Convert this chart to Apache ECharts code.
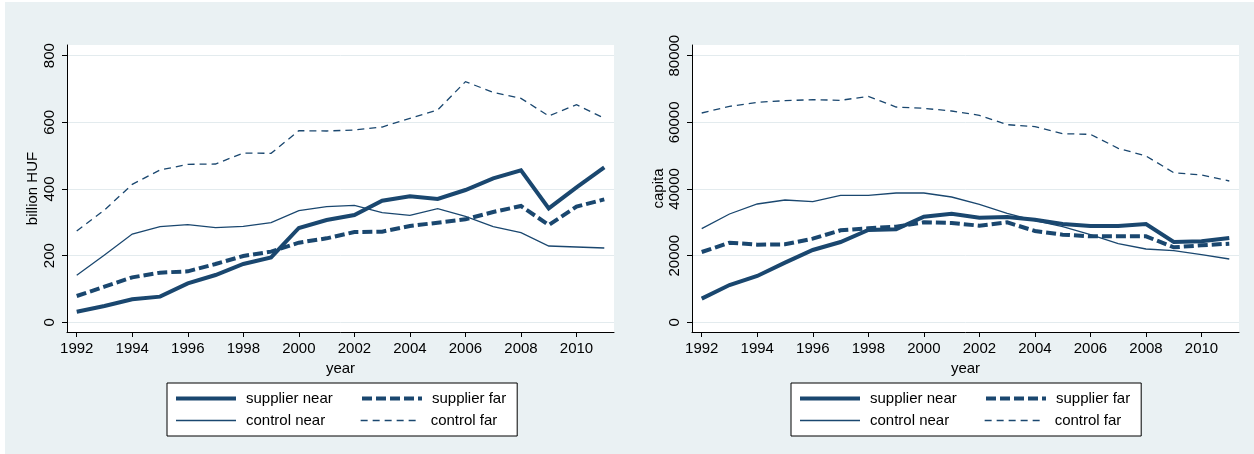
<!DOCTYPE html>
<html>
<head>
<meta charset="utf-8">
<script src="https://cdn.jsdelivr.net/npm/echarts@6/dist/echarts.min.js"></script>
<style>
html,body{margin:0;padding:0;background:#fff;width:1254px;height:454px;overflow:hidden;}
#bg{position:absolute;left:5px;top:2px;right:0;bottom:0;background:#eaf1f3;}
#c{position:absolute;left:0;top:0;width:1254px;height:454px;}
</style>
</head>
<body>
<div id="bg"></div>
<div id="c"></div>
<script>
const years = [1992,1993,1994,1995,1996,1997,1998,1999,2000,2001,2002,2003,2004,2005,2006,2007,2008,2009,2010,2011];
const xTicks = [1992,1994,1996,1998,2000,2002,2004,2006,2008,2010];
const yTicksLeft = [0,200,400,600,800];
const yTicksRight = [0,20000,40000,60000,80000];

// Left panel: billion HUF
const leftSupplierNear = [32,49,69,77,117,142,175,195,283,307,322,365,378,370,397,432,456,342,405,465];
const leftSupplierFar  = [79,107,135,149,153,175,199,212,239,252,271,272,289,299,309,331,349,292,347,369];
const leftControlNear  = [141,202,265,287,293,284,288,299,335,347,351,329,321,341,318,287,269,229,226,223];
const leftControlFar   = [274,337,414,457,474,475,508,507,575,574,577,586,612,637,722,690,672,619,653,612];

// Right panel: capita
const rightSupplierNear = [7100,11200,13900,17900,21700,24100,27700,27900,31700,32600,31400,31600,30800,29500,28900,28900,29500,24100,24300,25300];
const rightSupplierFar  = [21100,23900,23300,23400,25100,27600,28200,28700,30000,29800,29000,30000,27400,26300,25800,25800,25800,22500,23100,23600];
const rightControlNear  = [28100,32500,35500,36700,36200,38100,38100,38800,38800,37600,35400,32700,30500,28700,26300,23600,22000,21500,20300,19000];
const rightControlFar   = [62800,64800,66000,66500,66800,66600,67800,64600,64200,63400,62100,59300,58700,56600,56400,52200,49900,44900,44200,42400];

const seriesNames = ['supplier near','supplier far','control near','control far'];

const NAVY = '#1a476f';
const FONT = '"Liberation Sans", Arial, Helvetica, sans-serif';
const styles = [
  {width:4, type:'solid'},
  {width:4, type:[10,4]},
  {width:1.3, type:'solid'},
  {width:1.3, type:[7,5]}
];

function pairs(vals){ return years.map((y,i)=>[y, vals[i]]); }

const chart = echarts.init(document.getElementById('c'), null, {renderer:'canvas'});

function xAxisDef(gi){
  return {
    type:'value', gridIndex:gi, min:1991.65, max:2011.35,
    name:'year', nameLocation:'middle', nameGap:24,
    nameTextStyle:{fontSize:15, color:'#000', fontFamily:FONT},
    axisLine:{show:true, onZero:false, lineStyle:{color:'#000', width:1}},
    axisTick:{show:true, length:5, lineStyle:{color:'#000'}, customValues:xTicks},
    axisLabel:{fontSize:15, color:'#000', fontFamily:FONT, margin:9, customValues:xTicks, formatter:v=>String(v)},
    splitLine:{show:false}
  };
}
function yAxisDef(gi, min, max, ticks, name, gap){
  return {
    type:'value', gridIndex:gi, min:min, max:max,
    name:name, nameLocation:'middle', nameGap:gap, nameRotate:90,
    nameTextStyle:{fontSize:15, color:'#000', fontFamily:FONT},
    axisLine:{show:true, onZero:false, lineStyle:{color:'#000', width:1}},
    axisTick:{show:true, length:5, lineStyle:{color:'#000'}, customValues:ticks},
    axisLabel:{fontSize:15, color:'#000', fontFamily:FONT, rotate:90, margin:10, customValues:ticks, formatter:v=>String(v)},
    splitLine:{show:true, lineStyle:{color:'#e3ebee', width:1}}
  };
}

const leftData = [leftSupplierNear,leftSupplierFar,leftControlNear,leftControlFar];
const rightData = [rightSupplierNear,rightSupplierFar,rightControlNear,rightControlFar];

const series = [];
[leftData,rightData].forEach((set,gi)=>{
  set.forEach((vals,k)=>{
    series.push({
      type:'line', name:seriesNames[k], xAxisIndex:gi, yAxisIndex:gi,
      data:pairs(vals), symbol:'none', showSymbol:false, silent:true, animation:false,
      lineStyle:{color:NAVY, width:styles[k].width, type:styles[k].type, cap:'butt', join:'miter'},
      itemStyle:{color:NAVY},
      z: 10-k
    });
  });
});

function legItem(k, extra){
  return Object.assign({
    name:seriesNames[k],
    itemStyle:{opacity:0, borderWidth:0},
    lineStyle:{color:NAVY, width:styles[k].width, type:styles[k].type, cap:'butt', opacity:1}
  }, extra||{});
}

function legendDef(left){
  return {
    left:left, top:383, width:340, orient:'horizontal',
    itemWidth:60, itemHeight:14, itemGap:5,
    padding:[7,11,7,7],
    borderColor:'#000', borderWidth:1, backgroundColor:'#fff',
    selectedMode:false,
    textStyle:{fontSize:15, color:'#000', fontFamily:FONT, lineHeight:17, padding:[0,0,0,5]},
    data:[
      legItem(0, {textStyle:{width:109}}),
      legItem(1),
      legItem(2, {textStyle:{width:109}}),
      legItem(3)
    ]
  };
}

chart.setOption({
  animation:false,
  backgroundColor:'transparent',
  grid:[
    {left:67, top:45, width:547, height:287, show:true, backgroundColor:'#fff', borderWidth:0},
    {left:692, top:45, width:547, height:287, show:true, backgroundColor:'#fff', borderWidth:0}
  ],
  xAxis:[xAxisDef(0), xAxisDef(1)],
  yAxis:[
    yAxisDef(0, -29, 832, yTicksLeft, 'billion HUF', 27),
    yAxisDef(1, -2900, 83200, yTicksRight, 'capita', 24)
  ],
  legend:[legendDef(167), legendDef(791)],
  series:series
});
</script>
</body>
</html>
